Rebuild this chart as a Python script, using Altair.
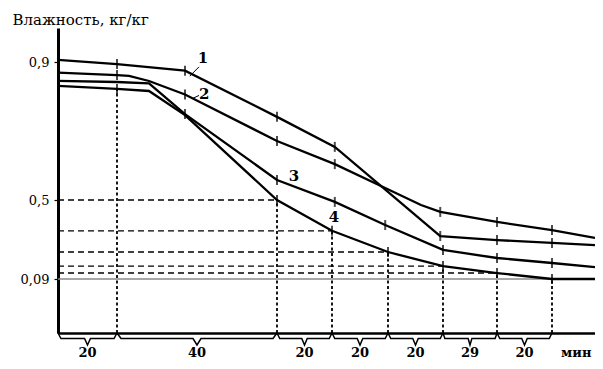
import altair as alt
import pandas as pd

# stage boundaries (cumulative minutes) and stage durations shown under the axis
stage_bounds = [0, 20, 60, 80, 100, 120, 149, 169]
stage_labels = ["20", "40", "20", "20", "20", "29", "20"]
x_end = 185
unit_label = "мин"
unit_pos = 178

# drying curves: time (min) and moisture (kg/kg)
c1_t = [0, 20, 37, 60, 81, 119, 149, 169, 185]
c1_w = [0.906, 0.894, 0.875, 0.741, 0.654, 0.313, 0.292, 0.277, 0.266]
c2_t = [0, 20, 23, 28, 37, 60, 81, 99, 112, 119, 149, 169, 185]
c2_w = [0.869, 0.862, 0.860, 0.845, 0.806, 0.671, 0.604, 0.535, 0.474, 0.438, 0.386, 0.344, 0.303]
c3_t = [0, 20, 28, 37, 60, 81, 99, 120, 149, 169, 185]
c3_w = [0.845, 0.842, 0.838, 0.749, 0.558, 0.490, 0.370, 0.241, 0.199, 0.173, 0.152]
c4_t = [0, 20, 28, 37, 60, 80, 100, 120, 149, 169, 185]
c4_w = [0.831, 0.822, 0.816, 0.746, 0.5, 0.34, 0.23, 0.157, 0.121, 0.09, 0.09]

# marker positions on each curve (minutes)
c1_m = [20, 37, 60, 81, 119, 149, 169]
c2_m = [20, 37, 60, 81, 119, 149, 169]
c3_m = [37, 60, 81, 99, 120, 149, 169]
c4_m = [20, 60, 80, 100, 120, 149, 169]

# reference lines
h_levels = [0.5, 0.34, 0.23, 0.157, 0.121]
h_ends = [60, 80, 100, 120, 149]
v_times = [20, 60, 80, 100, 120, 149, 169]
v_tops = [0.822, 0.5, 0.34, 0.23, 0.157, 0.121, 0.09]
base_level = 0.09

# curve number labels
lab_text = ["1", "2", "3", "4"]
lab_t = [41.5, 41.8, 66.2, 80.7]
lab_w = [0.913, 0.807, 0.570, 0.412]
lead_t1 = [38.2, 39.0]
lead_t2 = [40.5, 40.5]
lead_w1 = [0.859, 0.795]
lead_w2 = [0.886, 0.803]
y_ticks = [0.9, 0.5, 0.09]

SERIF = "DejaVu Serif"

curves = []
markers = []
for name, ts, ws, ms in [("1", c1_t, c1_w, c1_m), ("2", c2_t, c2_w, c2_m),
                         ("3", c3_t, c3_w, c3_m), ("4", c4_t, c4_w, c4_m)]:
    for i, (t, w) in enumerate(zip(ts, ws)):
        curves.append({"curve": name, "t": t, "w": w, "o": i})
    lk = dict(zip(ts, ws))
    for t in ms:
        markers.append({"curve": name, "t": t, "w": lk[t]})
curves = pd.DataFrame(curves)
markers = pd.DataFrame(markers)

hdf = pd.DataFrame({"t0": [0] * len(h_levels), "t1": h_ends, "w": h_levels})
vdf = pd.DataFrame({"t": v_times, "w0": [0] * len(v_times), "w1": v_tops})
gdf = pd.DataFrame({"t0": [0], "t1": [x_end], "w": [base_level]})
labdf = pd.DataFrame({"txt": lab_text, "t": lab_t, "w": lab_w})
leaddf = pd.DataFrame({"t1": lead_t1, "t2": lead_t2, "w1": lead_w1, "w2": lead_w2})

# brace shapes under the time axis
brace = []
bl = []
d = 1.0
for k in range(len(stage_labels)):
    s, e = stage_bounds[k], stage_bounds[k + 1]
    m = (s + e) / 2
    pts = [(s, 0.0), (s + d, 0.22), (m - d, 0.22), (m, 0.48), (m + d, 0.22), (e - d, 0.22), (e, 0.0)]
    for i, (t, dep) in enumerate(pts):
        brace.append({"seg": k, "t": t, "d": dep, "o": i})
    bl.append({"t": m, "d": 0.8, "txt": stage_labels[k]})
bl.append({"t": unit_pos, "d": 0.8, "txt": unit_label})
brace = pd.DataFrame(brace)
bl = pd.DataFrame(bl)

xs = alt.Scale(domain=stage_bounds + [x_end], range=[0, 59, 219, 274, 330, 385, 439, 494, 537],
               nice=False, zero=False)
ys = alt.Scale(domain=[0, 0.09, 0.5, 0.9, 1.0], range=[305, 251, 172, 34, 0], nice=False, zero=False)
bs = alt.Scale(domain=[0, 1], range=[305, 330], nice=False, zero=False)

xaxis = alt.Axis(title=None, labels=False, ticks=False, grid=False, domainWidth=2.5, domainColor="black")
yaxis = alt.Axis(title="Влажность, кг/кг", values=y_ticks,
                 labelExpr="replace(format(datum.value, '.2~f'), '.', ',')",
                 tickSize=4, tickWidth=1.2, tickColor="black", labelPadding=5,
                 labelFont=SERIF, labelFontSize=13, labelColor="black",
                 domainWidth=3, domainColor="black", grid=False,
                 titleAngle=0, titleX=-46, titleY=-9, titleAlign="left", titleBaseline="middle",
                 titleFont=SERIF, titleFontSize=15, titleFontWeight="normal", titleColor="black")


def X(f):
    return alt.X(f, type="quantitative", scale=xs, axis=xaxis)


def Y(f):
    return alt.Y(f, type="quantitative", scale=ys, axis=yaxis)


grey = alt.Chart(gdf).mark_rule(color="#8a8a8a", strokeWidth=1.6).encode(
    x=X("t0"), x2="t1", y=Y("w"))
hl = alt.Chart(hdf).mark_rule(color="black", strokeWidth=1.4, strokeDash=[6, 4]).encode(
    x=X("t0"), x2="t1", y=Y("w"))
vl = alt.Chart(vdf).mark_rule(color="black", strokeWidth=1.8, strokeDash=[3, 2.5]).encode(
    x=X("t"), y=Y("w0"), y2="w1")
lines = alt.Chart(curves).mark_line(color="black", strokeWidth=2.3).encode(
    x=X("t"), y=Y("w"), detail="curve:N", order="o:Q")
ticks = alt.Chart(markers).mark_tick(color="black", orient="vertical", size=10, thickness=2).encode(
    x=X("t"), y=Y("w"))
leads = alt.Chart(leaddf).mark_rule(color="black", strokeWidth=1).encode(
    x=X("t1"), x2="t2", y=Y("w1"), y2="w2")
labs = alt.Chart(labdf).mark_text(font=SERIF, fontSize=15, color="black", fontWeight="bold").encode(
    x=X("t"), y=Y("w"), text="txt")

main = alt.layer(grey, hl, vl, lines, ticks, leads, labs)

br = alt.Chart(brace).mark_line(color="black", strokeWidth=1.5).encode(
    x=X("t"), y=alt.Y("d:Q", scale=bs, axis=None), detail="seg:N", order="o:Q")
brt = alt.Chart(bl).mark_text(font=SERIF, fontSize=13, fontWeight="bold", color="black").encode(
    x=X("t"), y=alt.Y("d:Q", scale=bs, axis=None), text="txt")
braces = alt.layer(br, brt)

chart = alt.layer(main, braces).resolve_scale(y="independent").properties(
    width=537, height=305,
    padding={"left": 50, "top": 20, "right": 0, "bottom": 28},
    autosize=alt.AutoSizeParams(type="none"),
).configure_view(stroke=None)

chart.save("out.html", embed_options={"renderer": "svg", "actions": False})
